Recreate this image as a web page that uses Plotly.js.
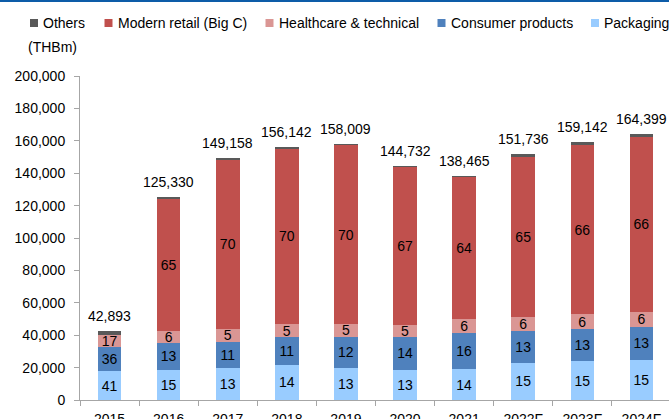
<!DOCTYPE html>
<html>
<head>
<meta charset="utf-8">
<script src="https://cdn.plot.ly/plotly-3.0.1.min.js"></script>
<style>html,body{margin:0;padding:0;background:#fff;}#chart{width:669px;height:419px;}</style>
</head>
<body>
<div id="chart"></div>
<script>
// ---- data ----
var years = ['2015','2016','2017','2018','2019','2020','2021','2022F','2023F','2024F'];
var totals = [42893,125330,149158,156142,158009,144732,138465,151736,159142,164399];
var packaging = [17600,18800,19600,21800,20000,18800,19000,22900,23800,24700];
var consumer  = [15400,16600,16300,17100,19000,20200,22200,19600,20000,20500];
var healthcare= [7300,7500,7900,7800,8000,7600,8500,8900,9000,9400];
var retail    = [0,81230,104658,108542,110109,97232,87965,98336,104442,107799];
var others    = [2593,1200,700,900,900,900,800,2000,1900,2000];
var packagingPct = ['41','15','13','14','13','13','14','15','15','15'];
var consumerPct  = ['36','13','11','11','12','14','16','13','13','13'];
var healthcarePct= ['17','6','5','5','5','5','6','6','6','6'];
var retailPct    = ['','65','70','70','70','67','64','65','66','66'];
var seriesNames = ['Others','Modern retail (Big C)','Healthcare & technical','Consumer products','Packaging'];
var unitLabel = '(THBm)';

// ---- style ----
var W = 669, H = 419, ML = 80, MR = 0, MT = 76, MB = 19;
var PW = W - ML - MR, PH = H - MT - MB;
function px(x){ return (x - ML) / PW; }
function py(y){ return (H - MB - y) / PH; }
var FONT = '"Liberation Sans", Arial, sans-serif';
var colors = {
  'Others':'#595959',
  'Modern retail (Big C)':'#C0504D',
  'Healthcare & technical':'#DA9694',
  'Consumer products':'#4F81BD',
  'Packaging':'#99CCFF'
};

function barTrace(name, vals, labels){
  return {
    type:'bar', name:name, x:years, y:vals,
    text:labels, textposition: labels ? 'inside' : 'none',
    insidetextanchor:'middle', constraintext:'none', textangle:0,
    textfont:{family:FONT, size:14, color:'#000'},
    marker:{color:colors[name], line:{width:0}},
    hoverinfo:'y', showlegend:false
  };
}
var traces = [
  barTrace('Packaging', packaging, packagingPct),
  barTrace('Consumer products', consumer, consumerPct),
  barTrace('Healthcare & technical', healthcare, healthcarePct),
  barTrace('Modern retail (Big C)', retail, retailPct),
  barTrace('Others', others, null)
];

var annotations = years.map(function(y,i){
  return {x:i, y:totals[i], xref:'x', yref:'y', text:totals[i].toLocaleString('en-US'),
    showarrow:false, yshift:15, font:{family:FONT,size:14,color:'#000'}};
});

// legend (manual, to match compact spacing)
var legendX = [30, 104.5, 265.5, 437.5, 591];
var shapes = [];
seriesNames.forEach(function(n,i){
  shapes.push({type:'rect', xref:'paper', yref:'paper',
    x0:px(legendX[i]), x1:px(legendX[i]+8), y0:py(27), y1:py(19),
    fillcolor:colors[n], line:{width:0}});
  annotations.push({xref:'paper', yref:'paper', x:px(legendX[i]+11), y:py(23),
    xanchor:'left', yanchor:'middle', text:n.replace('&','&amp;'), showarrow:false,
    font:{family:FONT,size:14,color:'#000'}});
});
annotations.push({xref:'paper', yref:'paper', x:px(26), y:py(47), xanchor:'left', yanchor:'middle',
  text:unitLabel, showarrow:false, font:{family:FONT,size:14,color:'#000'}});
// top rule
shapes.push({type:'rect', xref:'paper', yref:'paper', x0:px(0), x1:1.01, y0:py(2), y1:py(-1),
  fillcolor:'#0D5CA8', line:{width:0}});

var layout = {
  width:W, height:H, margin:{l:ML, r:MR, t:MT, b:MB, pad:0},
  paper_bgcolor:'#fff', plot_bgcolor:'#fff',
  barmode:'stack', bargap:0.6, showlegend:false,
  font:{family:FONT, size:14, color:'#000'},
  xaxis:{type:'category', range:[-0.5, -0.5 + PW/59.1], automargin:false,
    showline:true, linecolor:'#A6A6A6', linewidth:1,
    ticks:'outside', tickson:'boundaries', ticklen:5, tickcolor:'#A6A6A6', ticklabelstandoff:6,
    showgrid:false, zeroline:false, tickfont:{family:FONT,size:14,color:'#000'}},
  yaxis:{range:[0,200000], dtick:20000, tickformat:',', automargin:false,
    showline:true, linecolor:'#A6A6A6', linewidth:1,
    ticks:'outside', ticklen:5, tickcolor:'#A6A6A6', ticklabelstandoff:6,
    showgrid:false, zeroline:false, tickfont:{family:FONT,size:14,color:'#000'}},
  annotations:annotations, shapes:shapes
};
Plotly.newPlot('chart', traces, layout, {staticPlot:true, displayModeBar:false});
</script>
</body>
</html>
